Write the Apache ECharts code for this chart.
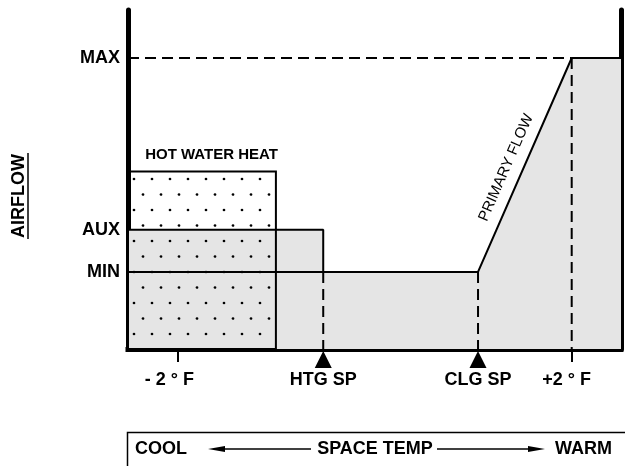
<!DOCTYPE html>
<html>
<head>
<meta charset="utf-8">
<style>
html, body { margin: 0; padding: 0; background: #fff; }
#container { width: 625px; height: 466px; }
</style>
<script src="https://cdn.jsdelivr.net/npm/echarts@6/dist/echarts.min.js"></script>
</head>
<body>
<div id="container"></div>
<script>
var dom = document.getElementById('container');
var myChart = echarts.init(dom, null, {
    renderer: 'canvas',
    useDirtyRect: false
});

// space temp axis, -2F .. +2F around the setpoints
const tempRange = [-2.5, 2.5];
const tempTicks = [-2, -0.52, 1.05, 2];
const tempTickNames = ['- 2 ° F', 'HTG SP', 'CLG SP', '+2 ° F'];

// airflow levels (% of max)
const airflowRange = [0, 116.5];
const levelNames = ['MIN', 'AUX', 'MAX'];
const levelValues = [26.5, 41, 100];

// primary flow curve
const flowX = [-2.5, -0.52, -0.52, 1.05, 2, 2.5];
const flowY = [41, 41, 26.5, 26.5, 100, 100];

// min flow line under the heating zone
const minFloorX = [-2.5, -0.52];
const minFloorY = [26.5, 26.5];

// hot water heat block
const hotWaterX = [-2.5, -1];
const hotWaterY = [0, 61];

const MIN = levelValues[0];
const MAX = levelValues[2];

// dashed guide lines [x1, y1, x2, y2]
const guides = [
    [tempRange[0], MAX, tempTicks[3], MAX],
    [tempTicks[3], MAX, tempTicks[3], 0],
    [tempTicks[1], MIN, tempTicks[1], 0],
    [tempTicks[2], MIN, tempTicks[2], 0]
];

const font = 'Liberation Sans, Arial, Helvetica, sans-serif';

function dotPattern() {
    var c = document.createElement('canvas');
    c.width = 18;
    c.height = 31;
    var ctx = c.getContext('2d');
    ctx.fillStyle = '#000';
    [[8, 24], [17, 8.5]].forEach(function (p) {
        [-18, 0, 18].forEach(function (ox) {
            [-31, 0, 31].forEach(function (oy) {
                ctx.beginPath();
                ctx.arc(p[0] + ox, p[1] + oy, 1.35, 0, Math.PI * 2);
                ctx.fill();
            });
        });
    });
    return c;
}
const dots = dotPattern();

var option = {
    animation: false,
    grid: {
        left: 128,
        right: 4,
        top: 10,
        bottom: 117,
        outerBoundsMode: 'none'
    },
    xAxis: {
        type: 'value',
        min: tempRange[0],
        max: tempRange[1],
        splitLine: { show: false },
        axisLine: { onZero: false, lineStyle: { color: '#000', width: 5, cap: 'square' } },
        axisTick: {
            show: true,
            customValues: [tempTicks[0], tempTicks[3]],
            length: 13,
            lineStyle: { color: '#000', width: 2 }
        },
        axisLabel: {
            customValues: tempTicks,
            margin: 22,
            color: '#000',
            fontFamily: font,
            fontWeight: 'bold',
            fontSize: 18,
            formatter: (v) => {
                let i = tempTicks.indexOf(v);
                if (i === 0) return '{dl|' + tempTickNames[i] + '}';
                if (i === 3) return '{dr|' + tempTickNames[i] + '}';
                return tempTickNames[i];
            },
            rich: {
                dl: { padding: [0, 16, 0, 0], fontFamily: font, fontWeight: 'bold', fontSize: 18, color: '#000' },
                dr: { padding: [0, 10, 0, 0], fontFamily: font, fontWeight: 'bold', fontSize: 18, color: '#000' }
            }
        }
    },
    yAxis: [
        {
            type: 'value',
            min: airflowRange[0],
            max: airflowRange[1],
            splitLine: { show: false },
            axisTick: { show: false },
            axisLine: { show: true, onZero: false, lineStyle: { color: '#000', width: 5 } },
            axisLabel: {
                customValues: levelValues,
                margin: 8,
                color: '#000',
                fontFamily: font,
                fontWeight: 'bold',
                fontSize: 18,
                formatter: (v) => levelNames[levelValues.indexOf(v)]
            }
        },
        {
            type: 'value',
            position: 'right',
            min: airflowRange[0],
            max: airflowRange[1],
            splitLine: { show: false },
            axisTick: { show: false },
            axisLabel: { show: false },
            axisLine: { show: true, onZero: false, lineStyle: { color: '#000', width: 5 } }
        }
    ],
    series: [
        {
            name: 'Primary flow',
            type: 'line',
            data: flowX.map((x, i) => [x, flowY[i]]),
            symbol: 'none',
            lineStyle: { color: '#000', width: 2 },
            areaStyle: { color: '#e5e5e5', opacity: 1 },
            z: 2
        },
        {
            name: 'Min flow',
            type: 'line',
            data: minFloorX.map((x, i) => [x, minFloorY[i]]),
            symbol: 'none',
            lineStyle: { color: '#000', width: 2 },
            z: 4
        },
        {
            name: 'Hot water heat',
            type: 'custom',
            data: [[hotWaterX[0], hotWaterY[0], hotWaterX[1], hotWaterY[1]]],
            encode: { x: [0, 2], y: [1, 3] },
            z: 3,
            renderItem: (params, api) => {
                var p0 = api.coord([api.value(0), api.value(1)]);
                var p1 = api.coord([api.value(2), api.value(3)]);
                return {
                    type: 'group',
                    children: [
                        {
                            type: 'rect',
                            shape: { x: p0[0], y: p1[1], width: p1[0] - p0[0], height: p0[1] - p1[1] },
                            style: { fill: { image: dots, repeat: 'repeat' }, stroke: '#000', lineWidth: 2 }
                        },
                        {
                            type: 'text',
                            style: {
                                text: 'HOT WATER HEAT',
                                x: p1[0] + 2,
                                y: p1[1] - 17,
                                align: 'right',
                                verticalAlign: 'middle',
                                font: 'bold 15px ' + font,
                                fill: '#000'
                            }
                        }
                    ]
                };
            }
        },
        {
            name: 'Guides',
            type: 'custom',
            data: guides,
            encode: { x: [0, 2], y: [1, 3] },
            z: 5,
            renderItem: (params, api) => {
                var a = api.coord([api.value(0), api.value(1)]);
                var b = api.coord([api.value(2), api.value(3)]);
                return {
                    type: 'line',
                    shape: { x1: a[0], y1: a[1], x2: b[0], y2: b[1] },
                    style: { stroke: '#000', lineWidth: 2, lineDash: [11, 6] }
                };
            }
        },
        {
            name: 'Setpoints',
            type: 'custom',
            data: [[tempTicks[1], 0], [tempTicks[2], 0]],
            z: 5,
            renderItem: (params, api) => {
                var p = api.coord([api.value(0), api.value(1)]);
                return {
                    type: 'polygon',
                    shape: { points: [[p[0], p[1] + 2], [p[0] - 8.5, p[1] + 19], [p[0] + 8.5, p[1] + 19]] },
                    style: { fill: '#000' }
                };
            }
        },
        {
            name: 'Primary flow label',
            type: 'custom',
            data: [[flowX[3], flowY[3], flowX[4], flowY[4]]],
            encode: { x: [0, 2], y: [1, 3] },
            z: 5,
            renderItem: (params, api) => {
                var a = api.coord([api.value(0), api.value(1)]);
                var b = api.coord([api.value(2), api.value(3)]);
                var ang = Math.atan2(a[1] - b[1], b[0] - a[0]);
                var c = Math.cos(ang), s = Math.sin(ang);
                var mx = (a[0] + b[0]) / 2, my = (a[1] + b[1]) / 2;
                // move down the slope a bit and off to the upper left
                var x = mx - 10 * c - 16 * s;
                var y = my + 10 * s - 16 * c;
                return {
                    type: 'text',
                    x: x,
                    y: y,
                    rotation: ang,
                    style: {
                        text: 'PRIMARY FLOW',
                        x: 0,
                        y: 0,
                        align: 'center',
                        verticalAlign: 'middle',
                        font: '15px ' + font,
                        fill: '#000'
                    }
                };
            }
        }
    ],
    graphic: [
        {
            type: 'text',
            x: 19,
            y: 196,
            rotation: Math.PI / 2,
            style: { text: 'AIRFLOW', font: 'bold 18px ' + font, fill: '#000', align: 'center', verticalAlign: 'middle' }
        },
        {
            type: 'line',
            shape: { x1: 28, y1: 153, x2: 28, y2: 239 },
            style: { stroke: '#000', lineWidth: 1.5 }
        },
        {
            type: 'polyline',
            shape: { points: [[127.5, 466], [127.5, 432.5], [625, 432.5]] },
            style: { stroke: '#000', lineWidth: 1.5, fill: null }
        },
        {
            type: 'text',
            x: 135,
            y: 449,
            style: { text: 'COOL', font: 'bold 18px ' + font, fill: '#000', align: 'left', verticalAlign: 'middle' }
        },
        {
            type: 'text',
            x: 375,
            y: 449,
            style: { text: 'SPACE TEMP', font: 'bold 18px ' + font, fill: '#000', align: 'center', verticalAlign: 'middle' }
        },
        {
            type: 'text',
            x: 555,
            y: 449,
            style: { text: 'WARM', font: 'bold 18px ' + font, fill: '#000', align: 'left', verticalAlign: 'middle' }
        },
        {
            type: 'line',
            shape: { x1: 222, y1: 449, x2: 311, y2: 449 },
            style: { stroke: '#000', lineWidth: 1.5 }
        },
        {
            type: 'polygon',
            shape: { points: [[208, 449], [225, 446], [225, 452]] },
            style: { fill: '#000' }
        },
        {
            type: 'line',
            shape: { x1: 437, y1: 449, x2: 532, y2: 449 },
            style: { stroke: '#000', lineWidth: 1.5 }
        },
        {
            type: 'polygon',
            shape: { points: [[545, 449], [528, 446], [528, 452]] },
            style: { fill: '#000' }
        }
    ]
};

myChart.setOption(option);

window.addEventListener('resize', myChart.resize);
</script>
</body>
</html>
